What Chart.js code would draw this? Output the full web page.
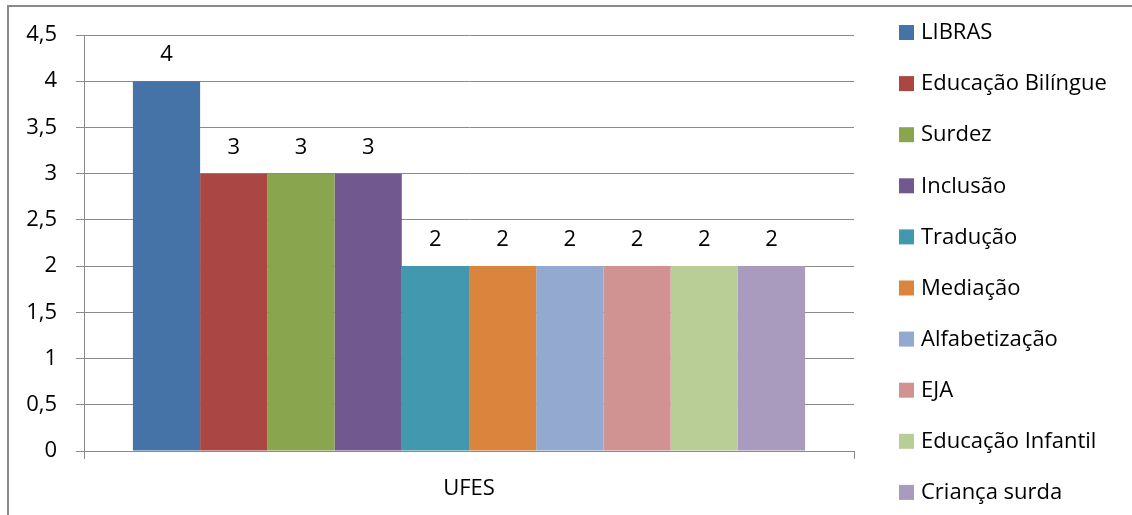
<!DOCTYPE html>
<html>
<head>
<meta charset="utf-8">
<script src="https://cdn.jsdelivr.net/npm/chart.js@4.4.0/dist/chart.umd.min.js"></script>
<style>
  html, body { margin: 0; padding: 0; background: #fff; overflow: hidden; }
  #wrap { position: relative; width: 1132px; height: 515px; }
  #frame { position: absolute; left: 7px; top: 5px; width: 1200px; height: 600px;
           border: 2px solid #8a8a8a; pointer-events: none; }
</style>
</head>
<body>
<div id="wrap">
  <canvas id="chart" width="1132" height="515"></canvas>
  <div id="frame"></div>
</div>
<script>
const categories = ["UFES"];
const themes = ["LIBRAS", "Educação Bilíngue", "Surdez", "Inclusão", "Tradução",
                "Mediação", "Alfabetização", "EJA", "Educação Infantil", "Criança surda"];
const counts = [4, 3, 3, 3, 2, 2, 2, 2, 2, 2];
const colors = ["#4572A7", "#AA4643", "#89A54E", "#71588F", "#4198AF",
                "#DB843D", "#93A9CF", "#D19392", "#B9CD96", "#A99BBD"];
const yTicks = [0, 0.5, 1, 1.5, 2, 2.5, 3, 3.5, 4, 4.5];

const fontFamily = "'Open Sans', sans-serif";
const fontSize = 22;
const gridColor = "#8a8a8a";

// value labels above each bar
const valueLabels = {
    id: "valueLabels",
    afterDatasetsDraw(chart) {
        const ctx = chart.ctx;
        ctx.save();
        ctx.font = fontSize + "px " + fontFamily;
        ctx.fillStyle = "#000";
        ctx.textAlign = "center";
        ctx.textBaseline = "middle";
        chart.data.datasets.forEach((ds, i) => {
            chart.getDatasetMeta(i).data.forEach((bar, j) => {
                ctx.fillText(String(ds.data[j]), bar.x, bar.y - 26);
            });
        });
        ctx.restore();
    }
};

// vertical legend on the right
const sideLegend = {
    id: "sideLegend",
    afterDraw(chart) {
        const ctx = chart.ctx;
        ctx.save();
        ctx.font = fontSize + "px " + fontFamily;
        ctx.textBaseline = "middle";
        chart.data.datasets.forEach((ds, i) => {
            const y = 32 + i * 51.1;
            ctx.fillStyle = ds.backgroundColor;
            ctx.fillRect(899, y - 7, 15, 15);
            ctx.fillStyle = "#000";
            ctx.fillText(ds.label, 921, y + 1);
        });
        ctx.restore();
    }
};

new Chart(document.getElementById("chart"), {
    type: "bar",
    data: {
        labels: categories,
        datasets: themes.map((t, i) => ({
            label: t,
            data: [counts[i]],
            backgroundColor: colors[i],
            borderWidth: 0
        }))
    },
    options: {
        responsive: false,
        animation: false,
        devicePixelRatio: 1,
        categoryPercentage: 0.873,
        barPercentage: 1,
        layout: { padding: { left: 0, right: 278, top: 35, bottom: 0 } },
        plugins: {
            legend: { display: false },
            tooltip: { enabled: false }
        },
        scales: {
            x: {
                afterFit: s => { s.height = 64; },
                grid: { display: true, drawOnChartArea: false, offset: true,
                        tickLength: 8, color: gridColor },
                border: { color: gridColor, width: 1 },
                ticks: { color: "#000", padding: 17, font: { family: fontFamily, size: fontSize } }
            },
            y: {
                min: 0,
                max: 4.5,
                afterFit: s => { s.width = 84; },
                afterBuildTicks: s => { s.ticks = yTicks.map(v => ({ value: v })); },
                grid: { color: gridColor, tickLength: 8 },
                border: { color: gridColor, width: 1 },
                ticks: {
                    color: "#000",
                    padding: 19,
                    font: { family: fontFamily, size: fontSize },
                    callback: v => String(v).replace(".", ",")
                }
            }
        }
    },
    plugins: [valueLabels, sideLegend]
});
</script>
</body>
</html>
